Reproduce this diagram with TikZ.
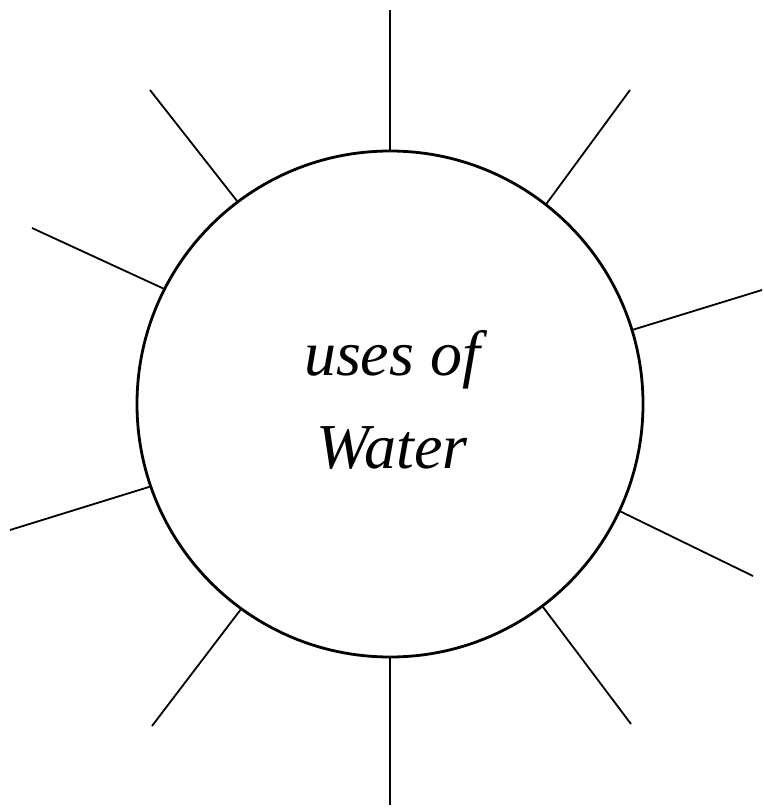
\documentclass[tikz,border=0pt]{standalone}
\usepackage{fontspec}
\setmainfont{Liberation Serif}
\begin{document}
\begin{tikzpicture}[x=1pt,y=-1pt,
  hub/.style={draw=black,line width=2.8pt,circle,minimum size=506pt,inner sep=0pt},
  spoke/.style={draw=black,line width=1.8pt},
  lbl/.style={font=\fontsize{64}{76}\selectfont\itshape,anchor=base,inner sep=0pt}]
\useasboundingbox (0,0) rectangle (763,808);
\node[hub] (c) at (390,404) {};
\node[lbl] (t1) at (392,375) {uses of};
\node[lbl] (t2) at (392,468) {Water};
\coordinate (o1) at (390,10);
\coordinate (o2) at (630,90);
\coordinate (o3) at (762,290);
\coordinate (o4) at (753,576);
\coordinate (o5) at (631,724);
\coordinate (o6) at (390,805);
\coordinate (o7) at (152,726);
\coordinate (o8) at (10,530);
\coordinate (o9) at (32,228);
\coordinate (o10) at (150,90);
\draw[spoke] (c.90) -- (o1);
\draw[spoke] (c.52.3) -- (o2);
\draw[spoke] (c.17) -- (o3);
\draw[spoke] (c.-25) -- (o4);
\draw[spoke] (c.-53.1) -- (o5);
\draw[spoke] (c.-90) -- (o6);
\draw[spoke] (c.-126.3) -- (o7);
\draw[spoke] (c.-161.3) -- (o8);
\draw[spoke] (c.153.7) -- (o9);
\draw[spoke] (c.127.7) -- (o10);
\end{tikzpicture}
\end{document}
